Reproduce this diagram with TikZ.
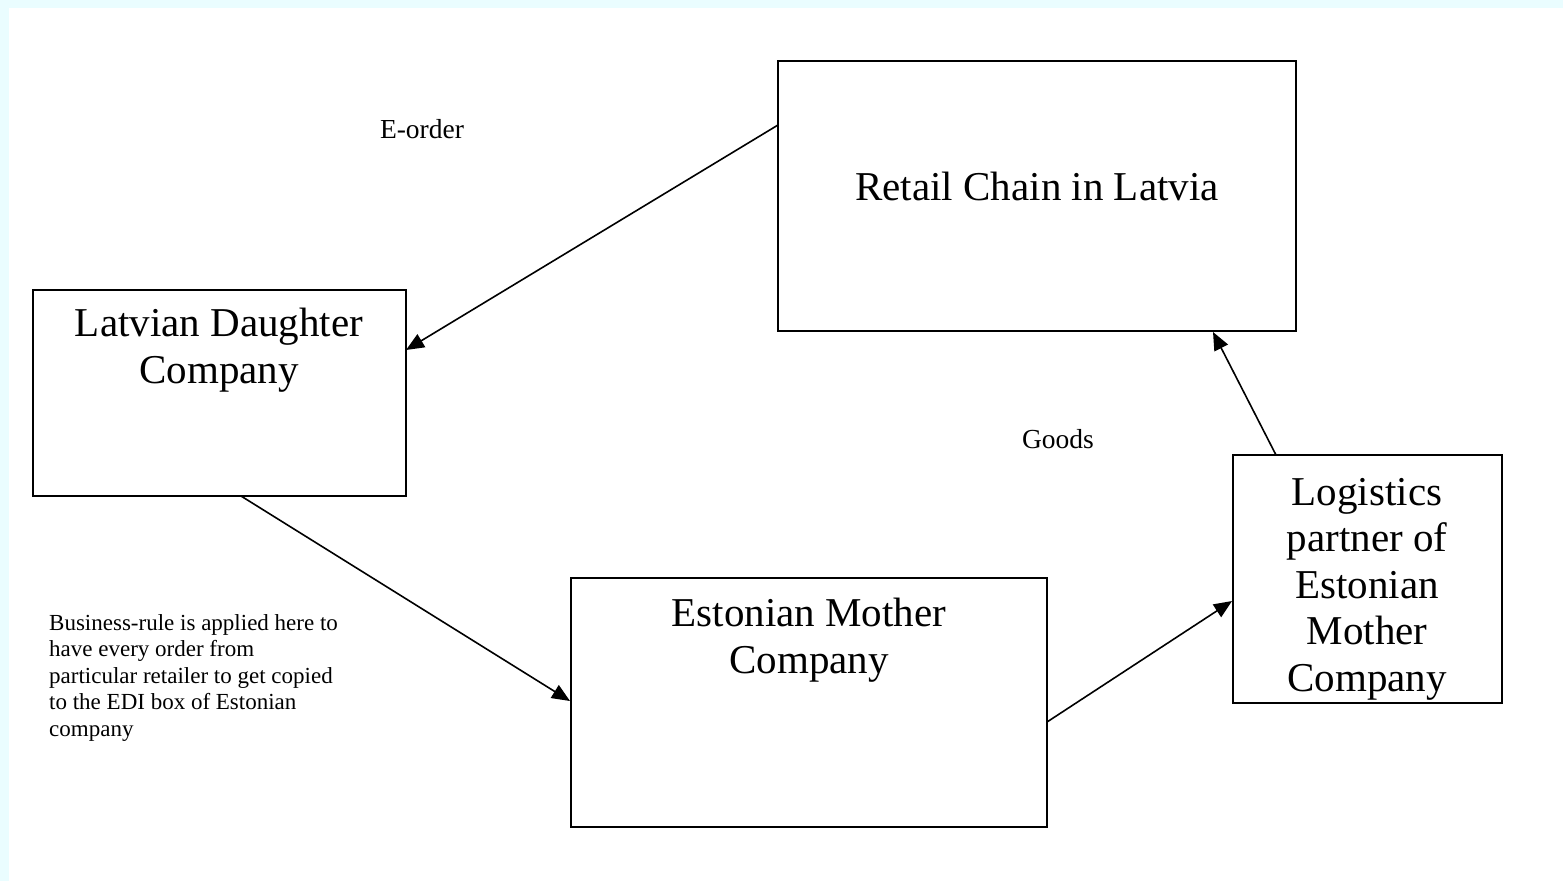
\documentclass[tikz,border=0pt]{standalone}
\usepackage{fontspec}
\setmainfont{Liberation Serif}
\usetikzlibrary{arrows.meta}
\definecolor{framecyan}{RGB}{234,253,255}
\begin{document}
\begin{tikzpicture}[x=1pt,y=-1pt,
  box/.style={draw=black,line width=2pt},
  big/.style={font=\fontsize{41}{46.5}\selectfont,align=center,inner sep=0pt},
  lbl/.style={font=\fontsize{27.5}{30}\selectfont,inner sep=0pt},
  conn/.style={draw=black,line width=1.6pt,-{Triangle[length=18pt,width=15pt]}}]
\useasboundingbox (0,0) rectangle (1563,881);
\fill[framecyan] (0,0) rectangle (1563,8);
\fill[framecyan] (0,0) rectangle (9,881);
% boxes
\node[box,minimum width=518pt,minimum height=270pt,inner sep=0pt] (retail) at (1037,196) {};
\node[box,minimum width=373pt,minimum height=206pt,inner sep=0pt] (latvian) at (219.5,393) {};
\node[box,minimum width=476pt,minimum height=249pt,inner sep=0pt] (estonian) at (809,702.5) {};
\node[box,minimum width=269pt,minimum height=248pt,inner sep=0pt] (logistics) at (1367.5,579) {};
% texts (base = baseline of the last line)
\node[big,anchor=base] (rt) at (1037,200) {Retail Chain in Latvia};
\node[big,anchor=base] (lt) at (219,383) {Latvian Daughter\\Company};
\node[big,anchor=base] (et) at (809,673) {Estonian Mother\\Company};
\node[big,anchor=base] (lgt) at (1367,691) {Logistics\\partner of\\Estonian\\Mother\\Company};
\node[lbl,anchor=base] (eorder) at (422,138) {E-order};
\node[lbl,anchor=base] (goods) at (1058,448) {Goods};
\node[font=\fontsize{23}{26.5}\selectfont,align=left,anchor=north west,inner sep=0pt] (rule) at (49,614)
  {Business-rule is applied here to\\have every order from\\particular retailer to get copied\\to the EDI box of Estonian\\company};
% connectors
\coordinate (a1) at (778,125);
\coordinate (a2) at (406,350);
\coordinate (b1) at (241,496);
\coordinate (b2) at (570,701);
\coordinate (c1) at (1047,722);
\coordinate (c2) at (1232,601);
\coordinate (d1) at (1276,455);
\coordinate (d2) at (1213,332);
\draw[conn] (a1) -- (a2);
\draw[conn] (b1) -- (b2);
\draw[conn] (c1) -- (c2);
\draw[conn] (d1) -- (d2);
\end{tikzpicture}
\end{document}
